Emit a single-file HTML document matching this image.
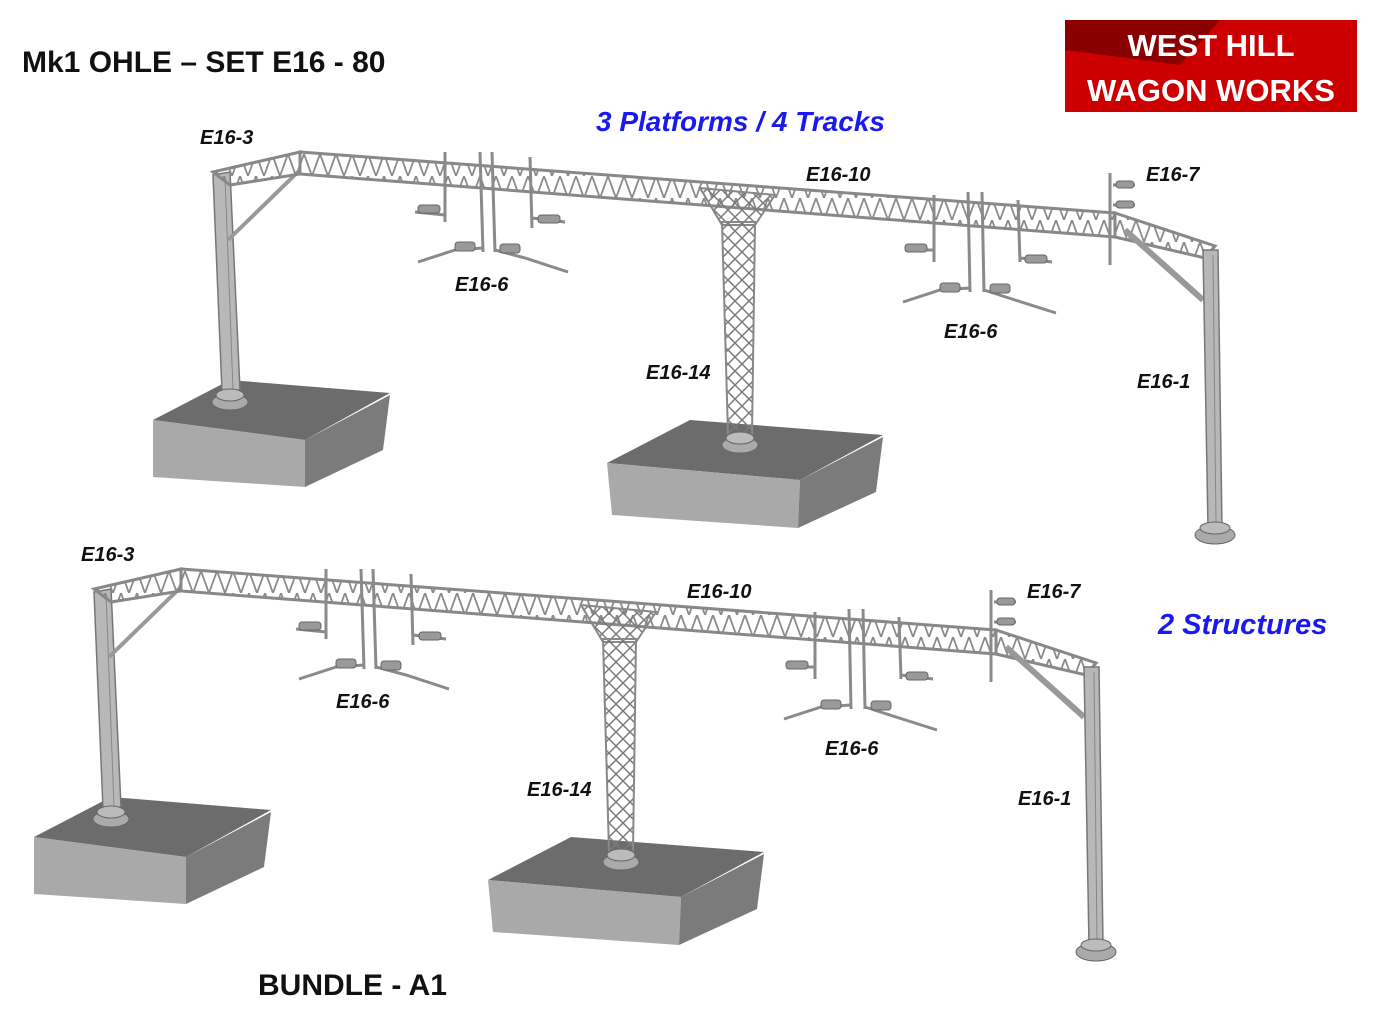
<!DOCTYPE html>
<html><head><meta charset="utf-8"><style>
html,body{margin:0;padding:0;background:#fff}
svg{display:block}
.t{font-family:"Liberation Sans",sans-serif;font-weight:bold}
.lb{font-family:"Liberation Sans",sans-serif;font-weight:bold;font-style:italic;font-size:20px;fill:#111}
</style></head><body>
<svg width="1384" height="1017" viewBox="0 0 1384 1017" xmlns="http://www.w3.org/2000/svg">
<defs>
<pattern id="zz" width="16" height="22" patternUnits="userSpaceOnUse">
<path d="M0 0 L8 22 L16 0" fill="none" stroke="#8a8a8a" stroke-width="1.8"/>
</pattern>
<pattern id="lat" width="14" height="14" patternUnits="userSpaceOnUse">
<path d="M0 0 L14 14 M14 0 L0 14" stroke="#7a7a7a" stroke-width="1.5"/>
</pattern>
<g id="st">
 <polygon points="153,420 230,380 390,393 305,440" fill="#6c6c6c"/>
 <polygon points="153,420 305,440 305,487 153,477" fill="#a9a9a9"/>
 <polygon points="305,440 390,395 383,450 305,487" fill="#7b7b7b"/>
 <polygon points="607,463 690,420 883,435 800,480" fill="#6c6c6c"/>
 <polygon points="607,463 800,480 798,528 612,515" fill="#a9a9a9"/>
 <polygon points="800,480 883,437 876,492 798,528" fill="#7b7b7b"/>
 <polygon points="213,175 230,172 240,390 222,392" fill="#b8b8b8" stroke="#777" stroke-width="1.5"/>
 <line x1="225" y1="176" x2="233" y2="390" stroke="#888" stroke-width="1"/>
 <line x1="228" y1="240" x2="300" y2="170" stroke="#999" stroke-width="4"/>
 <ellipse cx="230" cy="402" rx="18" ry="8" fill="#aaa" stroke="#666"/>
 <ellipse cx="230" cy="395" rx="14" ry="6" fill="#bbb" stroke="#666"/>
 <polygon points="213,172 300,152 300,174 230,185" fill="url(#zz)" stroke="#888" stroke-width="3"/>
 <polygon points="300,152 1115,213 1115,237 300,174" fill="url(#zz)" stroke="#888" stroke-width="3"/>
 <polygon points="1115,213 1215,246 1205,258 1115,237" fill="url(#zz)" stroke="#888" stroke-width="3"/>
 <line x1="1125" y1="230" x2="1203" y2="300" stroke="#999" stroke-width="6"/>
 <polygon points="700,188 775,195 755,225 722,225" fill="url(#lat)" stroke="#888" stroke-width="2"/>
 <polygon points="722,222 755,222 752,435 728,435" fill="url(#lat)" stroke="#888" stroke-width="2"/>
 <ellipse cx="740" cy="445" rx="18" ry="8" fill="#aaa" stroke="#666"/>
 <ellipse cx="740" cy="438" rx="14" ry="6" fill="#bbb" stroke="#666"/>
 <polygon points="1203,250 1218,250 1222,528 1208,528" fill="#b8b8b8" stroke="#777" stroke-width="1.5"/>
 <line x1="1213" y1="255" x2="1216" y2="525" stroke="#888"/>
 <ellipse cx="1215" cy="535" rx="20" ry="9" fill="#aaa" stroke="#666"/>
 <ellipse cx="1215" cy="528" rx="15" ry="6" fill="#bbb" stroke="#666"/>
 <g stroke="#8a8a8a" stroke-width="3" fill="none">
  <line x1="445" y1="152" x2="445" y2="222"/><line x1="480" y1="152" x2="483" y2="252"/>
  <line x1="492" y1="152" x2="495" y2="252"/><line x1="530" y1="157" x2="532" y2="228"/>
  <path d="M445 215 L415 212"/><path d="M532 218 L565 222"/>
  <path d="M483 248 L455 250 L418 262"/><path d="M495 250 L525 258 L568 272"/>
  <line x1="934" y1="195" x2="934" y2="262"/><line x1="968" y1="192" x2="970" y2="292"/>
  <line x1="982" y1="192" x2="984" y2="292"/><line x1="1018" y1="200" x2="1020" y2="262"/>
  <path d="M934 250 L905 250"/><path d="M1020 258 L1052 262"/>
  <path d="M970 288 L940 290 L903 302"/><path d="M984 290 L1015 300 L1056 313"/>
  <line x1="1110" y1="173" x2="1110" y2="265"/><path d="M1113 185 L1135 185 M1113 205 L1135 205"/>
 </g>
 <g fill="#999" stroke="#666">
  <rect x="418" y="205" width="22" height="8" rx="3"/><rect x="538" y="215" width="22" height="8" rx="3"/>
  <rect x="455" y="242" width="20" height="9" rx="3"/><rect x="500" y="244" width="20" height="9" rx="3"/>
  <rect x="905" y="244" width="22" height="8" rx="3"/><rect x="1025" y="255" width="22" height="8" rx="3"/>
  <rect x="940" y="283" width="20" height="9" rx="3"/><rect x="990" y="284" width="20" height="9" rx="3"/>
  <rect x="1116" y="181" width="18" height="7" rx="3"/><rect x="1116" y="201" width="18" height="7" rx="3"/>
 </g>
</g>
</defs>
<use href="#st"/>
<use href="#st" transform="translate(-119,417)"/>
<text x="22" y="72" class="t" font-size="30" fill="#111">Mk1 OHLE – SET E16 - 80</text>
<text x="258" y="995" class="t" font-size="30" fill="#111">BUNDLE - A1</text>
<text x="596" y="131" class="lb" style="font-size:28px;fill:#1a1af0">3 Platforms / 4 Tracks</text>
<text x="1158" y="634" class="lb" style="font-size:29px;fill:#1a1af0">2 Structures</text>
<g>
<text x="200" y="144" class="lb">E16-3</text><text x="455" y="291" class="lb">E16-6</text>
<text x="806" y="181" class="lb">E16-10</text><text x="1146" y="181" class="lb">E16-7</text>
<text x="944" y="338" class="lb">E16-6</text><text x="646" y="379" class="lb">E16-14</text>
<text x="1137" y="388" class="lb">E16-1</text>
<text x="81" y="561" class="lb">E16-3</text><text x="336" y="708" class="lb">E16-6</text>
<text x="687" y="598" class="lb">E16-10</text><text x="1027" y="598" class="lb">E16-7</text>
<text x="825" y="755" class="lb">E16-6</text><text x="527" y="796" class="lb">E16-14</text>
<text x="1018" y="805" class="lb">E16-1</text>
</g>
<rect x="1065" y="20" width="292" height="92" fill="#cc0000"/>
<polygon points="1065,20 1220,20 1180,65 1065,50" fill="#8a0000"/>
<text x="1211" y="56" text-anchor="middle" class="t" font-size="31" fill="#fff">WEST HILL</text>
<text x="1211" y="101" text-anchor="middle" class="t" font-size="31" fill="#fff">WAGON WORKS</text>
</svg>
</body></html>
